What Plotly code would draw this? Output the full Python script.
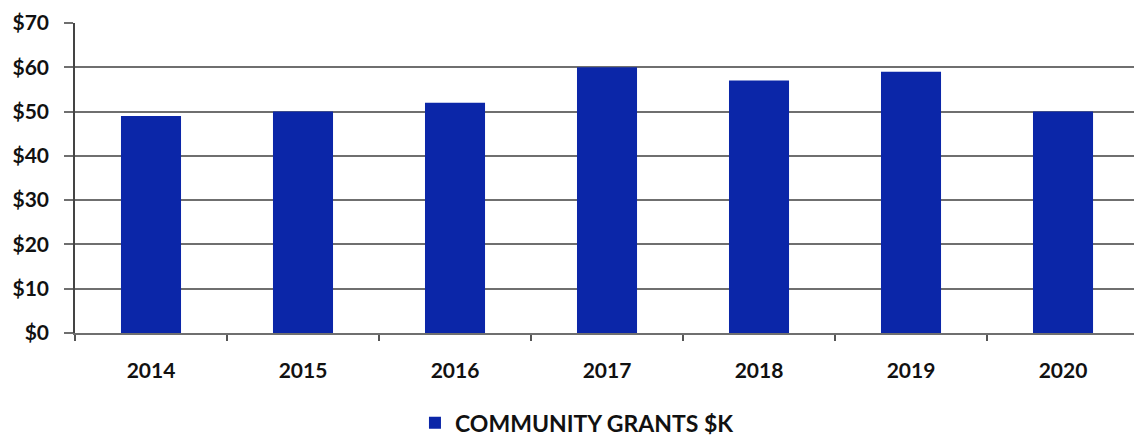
import plotly.graph_objects as go

years = ["2014", "2015", "2016", "2017", "2018", "2019", "2020"]
grants_k = [49, 50, 52, 60, 57, 59, 50]
y_ticks = [0, 10, 20, 30, 40, 50, 60, 70]
y_tick_labels = ["$0", "$10", "$20", "$30", "$40", "$50", "$60", "$70"]

bar_color = "#0B26A8"
grid_color = "#6f6f6f"
label_font = dict(family="Lato, Open Sans, sans-serif", size=21, color="#111111", weight="bold")

fig = go.Figure(
    go.Bar(
        x=years,
        y=grants_k,
        name="COMMUNITY GRANTS $K",
        marker=dict(color=bar_color, line=dict(width=0)),
        width=0.395,
    )
)

fig.update_layout(
    width=1134,
    height=441,
    margin=dict(l=75, r=0, t=23, b=108, autoexpand=False),
    paper_bgcolor="white",
    plot_bgcolor="white",
    showlegend=True,
    legend=dict(
        orientation="h",
        x=0.474,
        xanchor="center",
        y=-0.29,
        yanchor="middle",
        font=dict(family="Lato, Open Sans, sans-serif", size=23, color="#111111", weight="bold"),
        itemwidth=30,
    ),
    xaxis=dict(
        type="category",
        range=[-0.5, 6.467],
        tickson="boundaries",
        ticks="outside",
        ticklen=6,
        tickcolor="#555555",
        tickwidth=1.5,
        showline=True,
        linecolor=grid_color,
        linewidth=1.5,
        showgrid=False,
        tickfont=label_font,
        ticklabelstandoff=18,
        automargin=False,
    ),
    yaxis=dict(
        range=[0, 70],
        tickvals=y_ticks,
        ticktext=y_tick_labels,
        ticks="outside",
        ticklen=9,
        tickcolor=grid_color,
        tickwidth=1.5,
        showline=True,
        linecolor="#444444",
        linewidth=1.5,
        showgrid=True,
        gridcolor=grid_color,
        gridwidth=1.5,
        zeroline=False,
        tickfont=label_font,
        ticklabelstandoff=11,
        automargin=False,
    ),
    bargap=0.6,
)

fig.write_html("out.html")
